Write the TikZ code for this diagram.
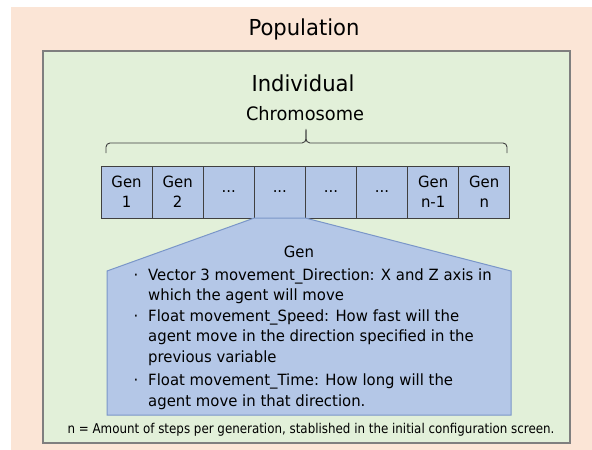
\documentclass[tikz,border=0pt]{standalone}
\usepackage{fontspec}
\setmainfont[FakeStretch=0.96]{DejaVu Sans}
\newfontfamily\notefont[FakeStretch=0.88]{DejaVu Sans}
\definecolor{peach}{HTML}{FBE5D6}
\definecolor{lgreen}{HTML}{E2F0D9}
\definecolor{lblue}{HTML}{B4C7E7}
\definecolor{bluebrd}{RGB}{122,150,200}
\definecolor{graybrd}{HTML}{7F7F7F}
\definecolor{darkline}{HTML}{404040}
\begin{document}
\begin{tikzpicture}[x=1pt,y=-1pt,
  genbox/.style={draw=darkline, line width=0.8pt, fill=lblue, minimum width=51.1pt, minimum height=52pt,
    inner sep=0pt, outer sep=0pt, anchor=north west, align=center, font=\fontsize{15.5}{20}\selectfont},
  bline/.style={anchor=base west, inner sep=0pt, font=\fontsize{15.5}{20}\selectfont},
  bdot/.style={anchor=base, inner sep=0pt, font=\fontsize{15.5}{20}\selectfont}]
\useasboundingbox (0,0) rectangle (592,450);
\fill[peach] (11,7) rectangle (592,450);
\node[draw=graybrd, line width=1.5pt, fill=lgreen, minimum width=527pt, minimum height=392pt,
  inner sep=0pt, outer sep=0pt, anchor=north west] (indiv) at (43,51) {};
\node[font=\fontsize{22}{26}\selectfont] (pop) at (304,29) {Population};
\node[font=\fontsize{22}{26}\selectfont] (indl) at (303,83) {Individual};
\node[font=\fontsize{18.5}{22}\selectfont] (chrom) at (305,114) {Chromosome};
% genes
\node[genbox] (g1) at (101,166) {Gen\\1};
\node[genbox] (g2) at (152.1,166) {Gen\\2};
\node[genbox] (g3) at (203.2,166) {...};
\node[genbox] (g4) at (254.3,166) {...};
\node[genbox] (g5) at (305.4,166) {...};
\node[genbox] (g6) at (356.5,166) {...};
\node[genbox] (g7) at (407.6,166) {Gen\\n-1};
\node[genbox] (g8) at (458.7,166) {Gen\\n};
% brace
\coordinate (bl) at (106,153);
\coordinate (br) at (507,153);
\coordinate (bt) at (306,129);
\draw[darkline, line width=0.9pt] (bl) -- (106,147) to[out=90,in=180] (110,143) -- (302,143)
  to[out=0,in=-90] (bt) to[out=-90,in=180] (310,143) -- (503,143) to[out=0,in=90] (507,147) -- (br);
% gen detail polygon
\draw[bluebrd, line width=1pt, fill=lblue] (g4.south west) -- (g4.south east) -- (511,271) -- (511,415)
  -- (107,415) -- (107,271) -- cycle;
\node[font=\fontsize{15.5}{20}\selectfont] (gtitle) at (299,252) {Gen};
\node[bdot] (d1) at (136,280) {·};
\node[bline] (l1) at (148,280) {Vector 3 movement\_Direction: X and Z axis in};
\node[bline] (l2) at (148,300) {which the agent will move};
\node[bdot] (d2) at (136,321) {·};
\node[bline] (l3) at (148,321) {Float movement\_Speed: How fast will the};
\node[bline] (l4) at (148,341) {agent move in the direction specified in the};
\node[bline] (l5) at (148,362) {previous variable};
\node[bdot] (d3) at (136,385) {·};
\node[bline] (l6) at (148,385) {Float movement\_Time: How long will the};
\node[bline] (l7) at (148,406) {agent move in that direction.};
\node[font=\notefont\fontsize{13.5}{16}\selectfont] (note) at (311,430) {n = Amount of steps per generation, stablished in the initial configuration screen.};
\end{tikzpicture}
\end{document}
